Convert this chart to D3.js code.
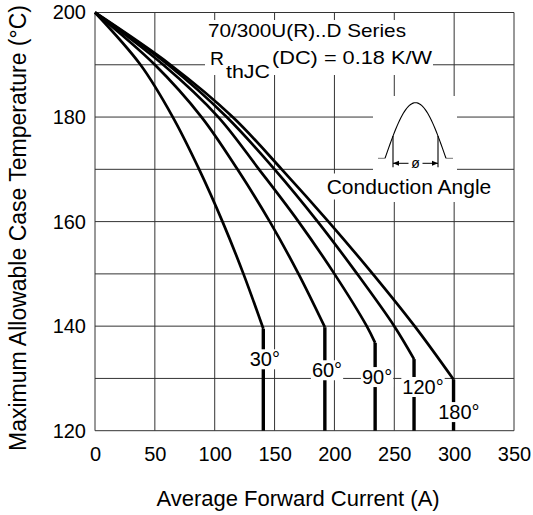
<!DOCTYPE html>
<html>
<head>
<meta charset="utf-8">
<script src="https://cdn.jsdelivr.net/npm/d3@7"></script>
<style>
  body { margin: 0; background: #fff; }
  text { font-family: "Liberation Sans", Arial, sans-serif; fill: #000; }
</style>
</head>
<body>
<script>
// axis ticks
const xTicks = [0, 50, 100, 150, 200, 250, 300, 350]
const yTicks = [120, 130, 140, 150, 160, 170, 180, 190, 200]
const yLabels = [120, 140, 160, 180, 200]

// curves: current (A) vs case temp (°C)
const angles = ["30°", "60°", "90°", "120°", "180°"]
const current30 = [0, 38, 65, 87, 106.5, 124, 140.6]
const temp30 = [200, 190, 180, 170, 160, 150, 139.5]
const current60 = [0, 50, 89, 119, 146, 170, 192]
const temp60 = [200, 190, 180, 170, 160, 150, 139.8]
const current90 = [0, 57, 103, 137, 170, 200, 227, 234]
const temp90 = [200, 190, 180, 170, 160, 150, 140, 136.8]
const current120 = [0, 61, 110, 150, 186, 219, 250, 266.5]
const temp120 = [200, 190, 180, 170, 160, 150, 140, 133.7]
const current180 = [0, 63, 115, 156, 195, 232, 267, 299.5]
const temp180 = [200, 190, 180, 170, 160, 150, 140, 129.8]

// where the angle labels sit (data units)
const labelCurrent = [141.9, 193.8, 235.6, 274, 304]
const labelTemp = [133.7, 131.6, 130.3, 128.4, 123.6]

const seriesCurrent = [current30, current60, current90, current120, current180]
const seriesTemp = [temp30, temp60, temp90, temp120, temp180]

const svg = d3.select("body").append("svg")
  .attr("width", 533)
  .attr("height", 515)

const x = d3.scaleLinear().domain([0, 350]).range([95, 514])
const y = d3.scaleLinear().domain([120, 200]).range([430.7, 12.5])

//grid
const grid = svg.append("g").attr("stroke", "#333").attr("stroke-width", 1)
grid.selectAll("line.v")
  .data(xTicks)
  .enter().append("line")
  .attr("x1", d => x(d)).attr("x2", d => x(d))
  .attr("y1", y(120)).attr("y2", y(200))
grid.selectAll("line.h")
  .data(yTicks)
  .enter().append("line")
  .attr("x1", x(0)).attr("x2", x(350))
  .attr("y1", d => y(d)).attr("y2", d => y(d))

// tick labels through d3 axes
svg.append("g")
  .attr("transform", `translate(0,${y(120)})`)
  .call(d3.axisBottom(x).tickValues(xTicks).tickSize(0).tickPadding(16))
svg.append("g")
  .attr("transform", `translate(${x(0)},0)`)
  .call(d3.axisLeft(y).tickValues(yLabels).tickSize(0).tickPadding(9))
svg.selectAll(".domain").remove()
svg.selectAll(".tick text")
  .attr("font-family", "Liberation Sans, Arial, sans-serif")
  .attr("font-size", 20)
  .attr("fill", "#000")

// white patches for the annotation and the inset
svg.append("rect").attr("x", 205).attr("y", 20).attr("width", 228).attr("height", 55).attr("fill", "#fff")
svg.append("rect").attr("x", 373).attr("y", 96).attr("width", 84).attr("height", 106).attr("fill", "#fff")

// curves
const line = d3.line()
  .x(d => x(d[0]))
  .y(d => y(d[1]))
  .curve(d3.curveCatmullRom.alpha(0.5))

const curves = svg.append("g")
seriesCurrent.forEach((cur, i) => {
  const pts = cur.map((c, j) => [c, seriesTemp[i][j]])
  curves.append("path")
    .attr("d", line(pts))
    .attr("fill", "none")
    .attr("stroke", "#000")
    .attr("stroke-width", 2.7)
    .attr("stroke-linejoin", "round")
  const last = pts[pts.length - 1]
  curves.append("line")
    .attr("x1", x(last[0])).attr("x2", x(last[0]))
    .attr("y1", y(last[1])).attr("y2", y(120))
    .attr("stroke", "#000")
    .attr("stroke-width", 3.4)
})

// angle labels on white
const labels = svg.append("g")
angles.forEach((a, i) => {
  const t = labels.append("text")
    .attr("x", x(labelCurrent[i]))
    .attr("y", y(labelTemp[i]))
    .attr("text-anchor", "middle")
    .attr("dy", "0.36em")
    .attr("font-size", 20)
    .text(a)
  const b = t.node().getBBox()
  labels.insert("rect", () => t.node())
    .attr("x", b.x - 1).attr("y", b.y + 1)
    .attr("width", b.width + 2).attr("height", b.height - 2)
    .attr("fill", "#fff")
})

// annotation
svg.append("text").attr("x", 208).attr("y", 37).attr("font-size", 19)
  .attr("textLength", 198).attr("lengthAdjust", "spacingAndGlyphs")
  .text("70/300U(R)..D Series")
svg.append("text").attr("x", 210).attr("y", 65).attr("font-size", 19)
  .attr("textLength", 14).attr("lengthAdjust", "spacingAndGlyphs").text("R")
svg.append("text").attr("x", 226).attr("y", 78).attr("font-size", 19)
  .attr("textLength", 44).attr("lengthAdjust", "spacingAndGlyphs").text("thJC")
svg.append("text").attr("x", 272).attr("y", 64).attr("font-size", 19)
  .attr("textLength", 160).attr("lengthAdjust", "spacingAndGlyphs").text("(DC) = 0.18 K/W")

// conduction angle inset
const cx = 415.5, base = 158.3, half = 30.5, amp = 55.6, gate = 22.5
const inset = svg.append("g").attr("fill", "none")
const wave = d3.range(0, 1.0001, 0.02).map(t => [cx - half + 2 * half * t, base - amp * Math.sin(Math.PI * t)])
inset.append("path").attr("d", d3.line()(wave)).attr("stroke", "#000").attr("stroke-width", 1.1)
inset.append("line").attr("x1", cx - half - 7).attr("x2", cx - half).attr("y1", base).attr("y2", base).attr("stroke", "#777")
inset.append("line").attr("x1", cx + half).attr("x2", cx + half + 7).attr("y1", base).attr("y2", base).attr("stroke", "#777")
const gateTop = base - amp * Math.sin(Math.PI * (half - gate) / (2 * half))
;[-1, 1].forEach(s => {
  inset.append("line")
    .attr("x1", cx + s * gate).attr("x2", cx + s * gate)
    .attr("y1", gateTop).attr("y2", base + 9)
    .attr("stroke", "#000").attr("stroke-width", 1.1)
  inset.append("line")
    .attr("x1", cx + s * 7).attr("x2", cx + s * gate)
    .attr("y1", base + 5).attr("y2", base + 5)
    .attr("stroke", "#000")
  inset.append("path")
    .attr("d", `M${cx + s * gate},${base + 5}l${-s * 6},-2.5v5z`)
    .attr("fill", "#000")
})
svg.append("text").attr("x", cx).attr("y", base + 5).attr("dy", "0.35em")
  .attr("text-anchor", "middle").attr("font-size", 14).text("ø")

const ca = svg.append("text").attr("x", 409).attr("y", 193.5)
  .attr("text-anchor", "middle").attr("font-size", 21).text("Conduction Angle")
const cb = ca.node().getBBox()
svg.insert("rect", () => ca.node())
  .attr("x", cb.x - 1).attr("y", cb.y - 1)
  .attr("width", cb.width + 2).attr("height", cb.height + 3)
  .attr("fill", "#fff")

// axis titles
svg.append("text")
  .attr("x", 298).attr("y", 506)
  .attr("text-anchor", "middle")
  .attr("font-size", 22)
  .text("Average Forward Current (A)")
svg.append("text")
  .attr("transform", "translate(26,228) rotate(-90)")
  .attr("text-anchor", "middle")
  .attr("font-size", 23)
  .text("Maximum Allowable Case Temperature (°C)")
</script>
</body>
</html>
